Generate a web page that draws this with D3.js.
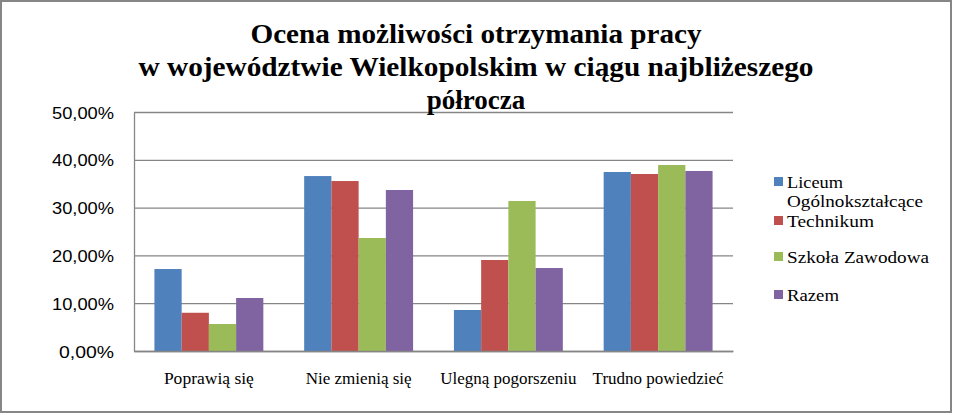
<!DOCTYPE html>
<html>
<head>
<meta charset="utf-8">
<script src="https://cdn.jsdelivr.net/npm/d3@7/dist/d3.min.js"></script>
<style>
  html, body { margin: 0; padding: 0; background: #fff; }
  svg { display: block; }
</style>
</head>
<body>
<svg id="chart" width="953" height="414"></svg>
<script>
const titleLines = ["Ocena możliwości otrzymania pracy", "w województwie Wielkopolskim w ciągu najbliżeszego", "półrocza"];
const categories = ["Poprawią się", "Nie zmienią się", "Ulegną pogorszeniu", "Trudno powiedzieć"];
const seriesNames = ["Liceum Ogólnokształcące", "Technikum", "Szkoła Zawodowa", "Razem"];
const legendLabels = [["Liceum", "Ogólnokształcące"], ["Technikum"], ["Szkoła Zawodowa"], ["Razem"]];
const liceum = [0.1715, 0.3660, 0.0858, 0.3745];
const technikum = [0.0800, 0.3556, 0.1904, 0.3703];
const szkolaZawodowa = [0.0565, 0.2364, 0.3138, 0.3891];
const razem = [0.1109, 0.3368, 0.1736, 0.3766];
const yTicks = [0, 0.1, 0.2, 0.3, 0.4, 0.5];
const colors = ["#4F81BD", "#C0504D", "#9BBB59", "#8064A2"];

const seriesValues = [liceum, technikum, szkolaZawodowa, razem];
const data = categories.map((c, i) => ({
  cat: c,
  vals: seriesNames.map((s, j) => ({ s, v: seriesValues[j][i] }))
}));

const svg = d3.select("#chart");
const W = 953, H = 414;
const plot = { left: 134, right: 733, top: 112, bottom: 351 };

// chart border
svg.append("rect").attr("x", 1).attr("y", 1).attr("width", W - 3).attr("height", H - 3)
  .attr("fill", "#fff").attr("stroke", "#868686").attr("stroke-width", 2);

const x0 = d3.scaleBand().domain(categories).range([plot.left, plot.right])
  .paddingInner(0.2727).paddingOuter(0.1364);
const x1 = d3.scaleBand().domain(seriesNames).range([0, x0.bandwidth()]);
const y = d3.scaleLinear().domain([0, 0.5]).range([plot.bottom, plot.top]);

const fmt = v => d3.format(".2f")(v * 100).replace(".", ",") + "%";

// gridlines
const grid = svg.append("g").attr("transform", `translate(${plot.left},0)`)
  .call(d3.axisLeft(y).tickValues(yTicks).tickSize(-(plot.right - plot.left)).tickFormat(""));
grid.select(".domain").remove();
grid.selectAll(".tick line").attr("stroke", "#868686").attr("stroke-width", 1.3);

// y axis line + labels
const yAxis = svg.append("g").attr("transform", `translate(${plot.left},0)`)
  .call(d3.axisLeft(y).tickValues(yTicks).tickSize(0).tickPadding(20).tickFormat(fmt));
yAxis.select(".domain").attr("stroke", "#868686").attr("stroke-width", 1.3);
yAxis.selectAll(".tick text")
  .attr("font-family", "'Liberation Sans', Arial, sans-serif")
  .attr("font-size", 17).attr("fill", "#000").attr("dy", "0.36em")
  .attr("textLength", d => d === 0 ? 55 : 62).attr("lengthAdjust", "spacingAndGlyphs");

// bars
const groups = svg.append("g").selectAll("g").data(data).join("g")
  .attr("transform", d => `translate(${x0(d.cat)},0)`);
groups.selectAll("rect").data(d => d.vals).join("rect")
  .attr("x", d => x1(d.s))
  .attr("width", x1.bandwidth())
  .attr("y", d => y(d.v))
  .attr("height", d => y(0) - y(d.v))
  .attr("fill", (d, i) => colors[i]);

// x axis line
const xAxis = svg.append("g").attr("transform", `translate(0,${plot.bottom})`)
  .call(d3.axisBottom(x0).tickSize(0).tickPadding(22));
xAxis.select(".domain").attr("stroke", "#868686").attr("stroke-width", 1.3);
const xLabelW = [90, 106, 136, 131];
xAxis.selectAll(".tick text")
  .attr("font-family", "'Liberation Serif', 'Times New Roman', serif")
  .attr("font-size", 16).attr("fill", "#000")
  .attr("textLength", (d, i) => xLabelW[i]).attr("lengthAdjust", "spacingAndGlyphs");

// title
const titleW = [451, 675, null];
const titleY = [43, 76, 109];
titleLines.forEach((t, i) => {
  const el = svg.append("text").attr("x", 476).attr("y", titleY[i])
    .attr("text-anchor", "middle")
    .attr("font-family", "'Liberation Serif', 'Times New Roman', serif")
    .attr("font-weight", "bold").attr("font-size", 27).attr("fill", "#000")
    .text(t);
  if (titleW[i]) el.attr("textLength", titleW[i]).attr("lengthAdjust", "spacingAndGlyphs");
});

// legend
const legendY = [182, 221, 257, 295];
const legendW = [[56, 136], [87], [142], [52]];
const leg = svg.append("g");
seriesNames.forEach((s, i) => {
  leg.append("rect").attr("x", 774).attr("y", legendY[i] - 5).attr("width", 9).attr("height", 9)
    .attr("fill", colors[i]);
  legendLabels[i].forEach((line, k) => {
    leg.append("text").attr("x", 787).attr("y", legendY[i] + k * 19).attr("dy", "0.35em")
      .attr("font-family", "'Liberation Serif', 'Times New Roman', serif")
      .attr("font-size", 16.5).attr("fill", "#000")
      .attr("textLength", legendW[i][k]).attr("lengthAdjust", "spacingAndGlyphs")
      .text(line);
  });
});
</script>
</body>
</html>
